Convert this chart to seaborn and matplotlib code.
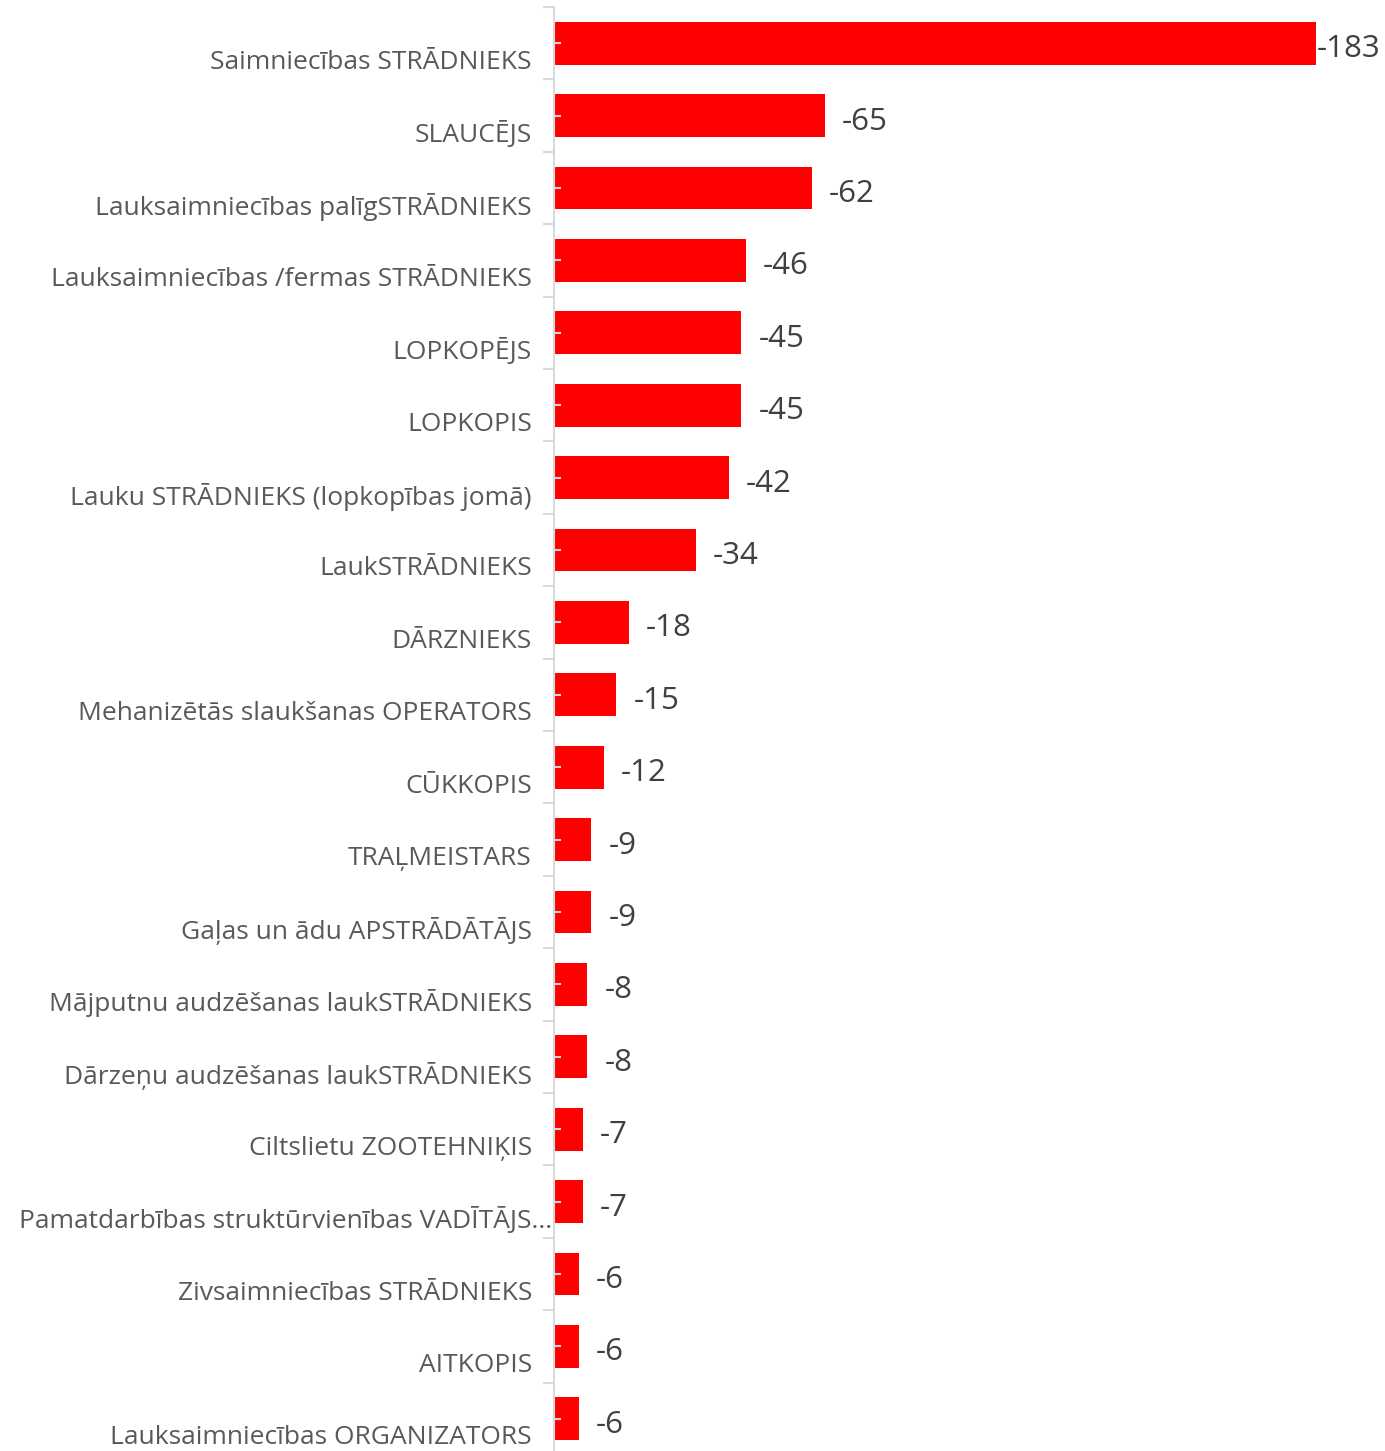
import numpy as np
import matplotlib
matplotlib.use("Agg")
import matplotlib.pyplot as plt
import matplotlib.transforms as mtransforms
import seaborn as sns

# occupations and change in vacancies
occupations = [
    "Saimniecības STRĀDNIEKS",
    "SLAUCĒJS",
    "Lauksaimniecības palīgSTRĀDNIEKS",
    "Lauksaimniecības /fermas STRĀDNIEKS",
    "LOPKOPĒJS",
    "LOPKOPIS",
    "Lauku STRĀDNIEKS (lopkopības jomā)",
    "LaukSTRĀDNIEKS",
    "DĀRZNIEKS",
    "Mehanizētās slaukšanas OPERATORS",
    "CŪKKOPIS",
    "TRAĻMEISTARS",
    "Gaļas un ādu APSTRĀDĀTĀJS",
    "Mājputnu audzēšanas laukSTRĀDNIEKS",
    "Dārzeņu audzēšanas laukSTRĀDNIEKS",
    "Ciltslietu ZOOTEHNIĶIS",
    "Pamatdarbības struktūrvienības VADĪTĀJS...",
    "Zivsaimniecības STRĀDNIEKS",
    "AITKOPIS",
    "Lauksaimniecības ORGANIZATORS",
]
changes = [-183, -65, -62, -46, -45, -45, -42, -34, -18, -15,
           -12, -9, -9, -8, -8, -7, -7, -6, -6, -6]

sns.set_style("white")
plt.rcParams["font.family"] = ["Open Sans", "DejaVu Sans"]

fig = plt.figure(figsize=(13.85, 14.51), dpi=100)
ax = fig.add_axes([554 / 1385, -4 / 1451, (1316 - 554) / 1385, (1451 - 7 + 4) / 1451])

pos = np.arange(len(occupations))
sns.barplot(x=changes, y=pos, orient="h", color="#ff0000", saturation=1,
            width=0.59, edgecolor="none", ax=ax)

# reversed value axis, like the original
ax.set_xlim(0, min(changes))
ax.set_ylim(len(occupations) - 0.5, -0.5)
ax.set_xticks([])
ax.set_xlabel("")
ax.set_ylabel("")

ax.set_yticks(np.arange(-0.5, len(occupations), 1.0))
ax.set_yticklabels([])
ax.set_yticks(pos, minor=True)
ax.tick_params(axis="y", which="major", direction="out", length=8, width=1.5,
               color="#d9d9d9", left=True)
ax.tick_params(axis="y", which="minor", direction="in", length=5, width=1.5,
               color="#d9d9d9", left=True)
ax.set_axisbelow(False)

for side in ["top", "right", "bottom"]:
    ax.spines[side].set_visible(False)
ax.spines["left"].set_color("#d9d9d9")
ax.spines["left"].set_linewidth(1.5)

# category labels sit a little below the bar centres
# (the truncated one runs right up to the axis)
for i, name in enumerate(occupations):
    pad = 2 if name.endswith("...") else 22
    lab_tr = mtransforms.blended_transform_factory(ax.transAxes, ax.transData) + \
        mtransforms.ScaledTranslation(-pad / 100, -19 / 100, fig.dpi_scale_trans)
    ax.text(0, i, name, transform=lab_tr, ha="right", va="center",
            fontsize=19, color="#595959", clip_on=False)

# value labels
for i, v in enumerate(changes):
    dx = 1 if v == min(changes) else 17
    tr = ax.transData + mtransforms.ScaledTranslation(dx / 100, -6 / 100, fig.dpi_scale_trans)
    ax.text(v, i, str(v), transform=tr, ha="left", va="center",
            fontsize=22.5, color="#404040", clip_on=False)

fig.savefig("out.png", dpi=100)
